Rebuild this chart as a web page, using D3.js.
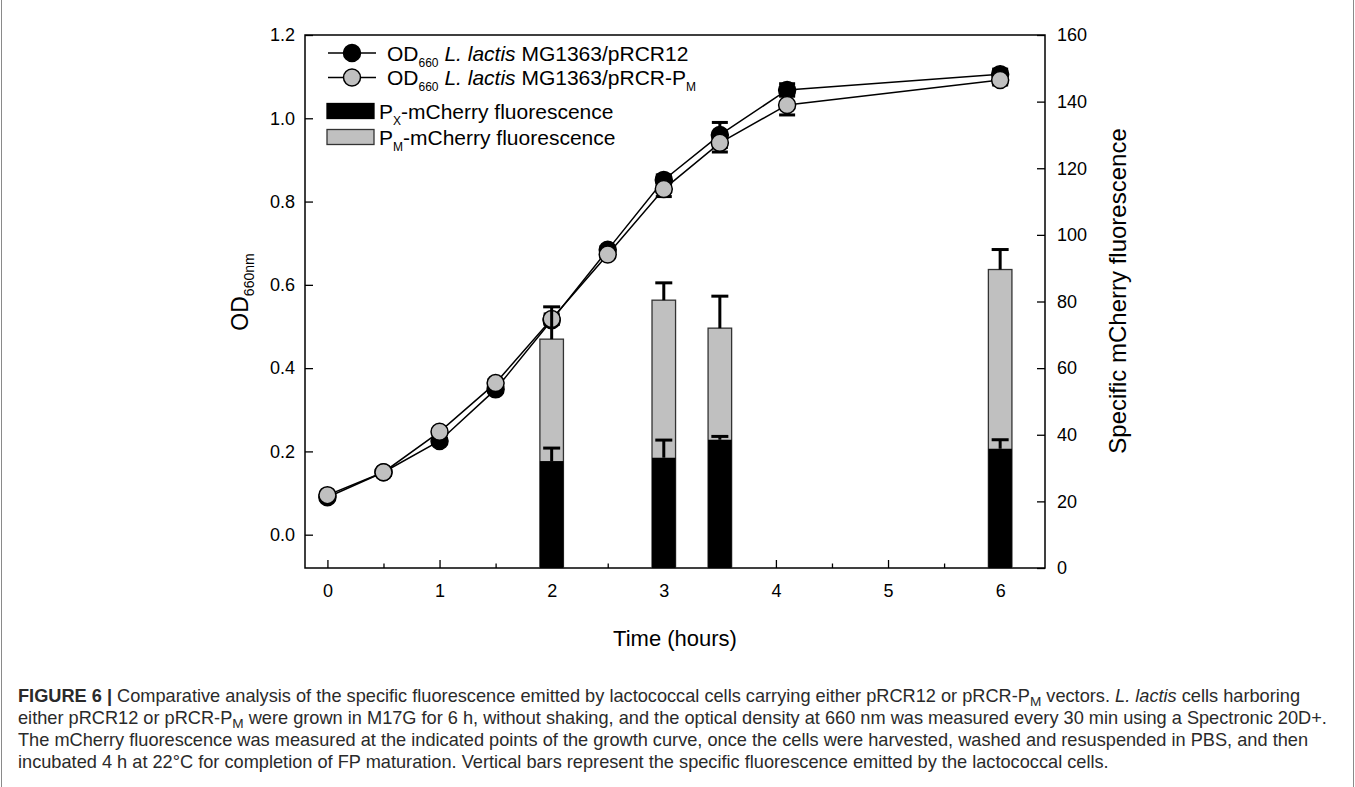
<!DOCTYPE html>
<html><head><meta charset="utf-8">
<script src="https://cdn.jsdelivr.net/npm/d3@7"></script>
<style>
html,body{margin:0;padding:0;background:#fff;}
svg text{font-family:"Liberation Sans",Arial,sans-serif;}
</style></head>
<body>
<svg id="chart" width="1355" height="787"></svg>
<script>
// ---- data ----
const times = [0, 0.5, 1, 1.5, 2, 2.5, 3, 3.5, 4.1, 6];
const odPRCR12 = [0.09, 0.15, 0.225, 0.349, 0.515, 0.684, 0.852, 0.960, 1.068, 1.106];
const odPRCR12Err = [0.004, 0.005, 0.006, 0.008, 0.01, 0.008, 0.012, 0.03, 0.015, 0.012];
const odPRCRPM = [0.095, 0.15, 0.247, 0.364, 0.518, 0.673, 0.830, 0.941, 1.032, 1.092];
const odPRCRPMErr = [0.004, 0.005, 0.006, 0.008, 0.012, 0.008, 0.018, 0.022, 0.024, 0.012];
const barTimes = [2, 3, 3.5, 6];
const pxFluor = [32.1, 33.1, 38.5, 35.8];
const pxFluorErr = [3.9, 5.3, 1.0, 2.7];
const pmFluor = [68.7, 80.4, 72.0, 89.6];
const pmFluorErr = [9.7, 5.2, 9.6, 6.0];
const xTicks = [0, 1, 2, 3, 4, 5, 6];
const xMinorTicks = [0.5, 1.5, 2.5, 3.5, 4.5, 5.5];
const yLeftTicks = [0.0, 0.2, 0.4, 0.6, 0.8, 1.0, 1.2];
const yRightTicks = [0, 20, 40, 60, 80, 100, 120, 140, 160];

const svg = d3.select("#chart");
const L = 305, R = 1045, T = 35, B = 568;
const x = d3.scaleLinear().domain([-0.2, 6.4]).range([L, R]);
const yL = d3.scaleLinear().domain([-0.08, 1.2]).range([B, T]);
const yR = d3.scaleLinear().domain([0, 160]).range([B, T]);
const GRAY = "#c0c0c0";

// page border lines
svg.append("line").attr("x1",1.5).attr("x2",1.5).attr("y1",0).attr("y2",787).attr("stroke","#8a8a8a").attr("stroke-width",1);
svg.append("line").attr("x1",1353.5).attr("x2",1353.5).attr("y1",0).attr("y2",787).attr("stroke","#8a8a8a").attr("stroke-width",1);

// axes
function styleAxis(g){
  g.select(".domain").remove();
  g.selectAll("line").attr("stroke","#000").attr("stroke-width",1.3);
  g.selectAll("text").attr("fill","#000").style("font-size","18px").style("font-family","Liberation Sans, Arial, sans-serif");
}
svg.append("g").attr("transform",`translate(${L},0)`)
  .call(d3.axisLeft(yL).tickValues(yLeftTicks).tickSize(-8).tickPadding(10).tickFormat(d3.format(".1f")))
  .call(styleAxis);
svg.append("g").attr("transform",`translate(${R},0)`)
  .call(d3.axisRight(yR).tickValues(yRightTicks).tickSize(-8).tickPadding(12).tickFormat(d3.format("d")))
  .call(styleAxis);
svg.append("g").attr("transform",`translate(0,${B})`)
  .call(d3.axisBottom(x).tickValues(xTicks).tickSize(-8).tickPadding(16).tickFormat(d3.format("d")))
  .call(styleAxis);
svg.append("g").attr("transform",`translate(0,${B})`)
  .call(d3.axisBottom(x).tickValues(xMinorTicks).tickSize(-4.5).tickFormat(""))
  .call(styleAxis);

// frame
svg.append("rect").attr("x",L).attr("y",T).attr("width",R-L).attr("height",B-T)
  .attr("fill","none").attr("stroke","#000").attr("stroke-width",1.5);

// series
const plot = svg.append("g");
function drawSeries(vals, errs, fill){
  const pts = times.map((t,i)=>({t, v:vals[i], e:errs[i]}));
  const eg = plot.append("g").attr("stroke","#000").attr("stroke-width",3);
  pts.forEach(p=>{
    eg.append("line").attr("x1",x(p.t)).attr("x2",x(p.t)).attr("y1",yL(p.v-p.e)).attr("y2",yL(p.v+p.e));
    [p.v-p.e, p.v+p.e].forEach(v=>eg.append("line").attr("x1",x(p.t)-8).attr("x2",x(p.t)+8).attr("y1",yL(v)).attr("y2",yL(v)));
  });
  plot.append("path").datum(pts)
    .attr("d", d3.line().x(d=>x(d.t)).y(d=>yL(d.v)))
    .attr("fill","none").attr("stroke","#000").attr("stroke-width",1.5);
  plot.append("g").selectAll("circle").data(pts).join("circle")
    .attr("cx",d=>x(d.t)).attr("cy",d=>yL(d.v)).attr("r",8.5)
    .attr("fill",fill).attr("stroke","#000").attr("stroke-width",1.5);
}
drawSeries(odPRCR12, odPRCR12Err, "#000");
drawSeries(odPRCRPM, odPRCRPMErr, GRAY);

// bars
const bw = x(0.105) - x(-0.105);
const bars = barTimes.map((t,i)=>({t, px:pxFluor[i], pxe:pxFluorErr[i], pm:pmFluor[i], pme:pmFluorErr[i]}));
const bg = svg.append("g");
bg.selectAll("rect.pm").data(bars).join("rect").attr("class","pm")
  .attr("x",d=>x(d.t)-bw/2).attr("width",bw).attr("y",d=>yR(d.pm)).attr("height",d=>yR(0)-yR(d.pm))
  .attr("fill",GRAY).attr("stroke","#333").attr("stroke-width",1.3);
bg.selectAll("rect.px").data(bars).join("rect").attr("class","px")
  .attr("x",d=>x(d.t)-bw/2).attr("width",bw).attr("y",d=>yR(d.px)).attr("height",d=>yR(0)-yR(d.px))
  .attr("fill","#000");
const beg = svg.append("g").attr("stroke","#000").attr("stroke-width",3);
bars.forEach(d=>{
  [[d.pm,d.pme],[d.px,d.pxe]].forEach(([v,e])=>{
    beg.append("line").attr("x1",x(d.t)).attr("x2",x(d.t)).attr("y1",yR(v)).attr("y2",yR(v+e));
    beg.append("line").attr("x1",x(d.t)-8.5).attr("x2",x(d.t)+8.5).attr("y1",yR(v+e)).attr("y2",yR(v+e));
  });
});

// legend
const lg = svg.append("g").style("font-size","21px");
const legRows = [53, 77.5];
[["#000", "12"], [GRAY, "PM"]].forEach(([fill, kind], i)=>{
  const y = legRows[i];
  lg.append("line").attr("x1",328).attr("x2",376).attr("y1",y).attr("y2",y).attr("stroke","#000").attr("stroke-width",1.5);
  lg.append("circle").attr("cx",352).attr("cy",y).attr("r",8.5).attr("fill",fill).attr("stroke","#000").attr("stroke-width",1.5);
  const t = lg.append("text").attr("x",387).attr("y",y+7.5);
  t.append("tspan").text("OD");
  t.append("tspan").attr("dy",6).style("font-size","12px").text("660");
  t.append("tspan").attr("dy",-6).text(" ");
  t.append("tspan").style("font-style","italic").text("L. lactis");
  if (kind === "12") {
    t.append("tspan").text(" MG1363/pRCR12");
  } else {
    t.append("tspan").text(" MG1363/pRCR-P");
    t.append("tspan").attr("dy",6).style("font-size","12px").text("M");
  }
});
[["#000","X",111],[GRAY,"M",137]].forEach(([fill,sub,y])=>{
  lg.append("rect").attr("x",327).attr("y",y-7.5).attr("width",47).attr("height",15)
    .attr("fill",fill).attr("stroke",fill==="#000"?"#000":"#333").attr("stroke-width",1.3);
  const t = lg.append("text").attr("x",379).attr("y",y+7.5);
  t.append("tspan").text("P");
  t.append("tspan").attr("dy",6).style("font-size","12px").text(sub);
  t.append("tspan").attr("dy",-6).text("-mCherry fluorescence");
});

// axis titles
const yl = svg.append("text").attr("transform",`translate(248,292) rotate(-90)`)
  .attr("text-anchor","middle").style("font-size","23px");
yl.append("tspan").text("OD");
yl.append("tspan").attr("dy",6).style("font-size","14px").text("660nm");
svg.append("text").attr("transform",`translate(1126,291) rotate(-90)`)
  .attr("text-anchor","middle").style("font-size","24px").text("Specific mCherry fluorescence");
svg.append("text").attr("x",(L+R)/2).attr("y",646).attr("text-anchor","middle")
  .style("font-size","22px").text("Time (hours)");

// caption
const cap = svg.append("g").attr("fill","#2a2a2a");
const capLines = [
  [["b","FIGURE 6 | "],["n","Comparative analysis of the specific fluorescence emitted by lactococcal cells carrying either pRCR12 or pRCR-P"],["s","M"],["n"," vectors. "],["i","L. lactis"],["n"," cells harboring"]],
  [["n","either pRCR12 or pRCR-P"],["s","M"],["n"," were grown in M17G for 6 h, without shaking, and the optical density at 660 nm was measured every 30 min using a Spectronic 20D+."]],
  [["n","The mCherry fluorescence was measured at the indicated points of the growth curve, once the cells were harvested, washed and resuspended in PBS, and then"]],
  [["n","incubated 4 h at 22°C for completion of FP maturation. Vertical bars represent the specific fluorescence emitted by the lactococcal cells."]]
];
const capY = [702, 724, 746, 768];
const capTexts = capLines.map((segs,i)=>{
  const t = cap.append("text").attr("x",18).attr("y",capY[i]).style("font-size","16px");
  let sub=false;
  segs.forEach(([k,s])=>{
    const ts = t.append("tspan").text(s);
    if (k==="b") ts.style("font-weight","bold");
    if (k==="i") ts.style("font-style","italic");
    if (k==="s") { ts.attr("dy",4).attr("class","sub").style("font-size","12px"); sub=true; }
    else if (sub) { ts.attr("dy",-4); sub=false; }
  });
  return t;
});
// fit caption font so that line 2 spans the measured width
const target = 1328 - 18;
const w2 = capTexts[1].node().getComputedTextLength();
const fs = 16 * target / w2;
capTexts.forEach(t=>{
  t.style("font-size", fs+"px");
  t.selectAll("tspan.sub").style("font-size",(fs*0.75)+"px");
});
</script>
</body></html>
